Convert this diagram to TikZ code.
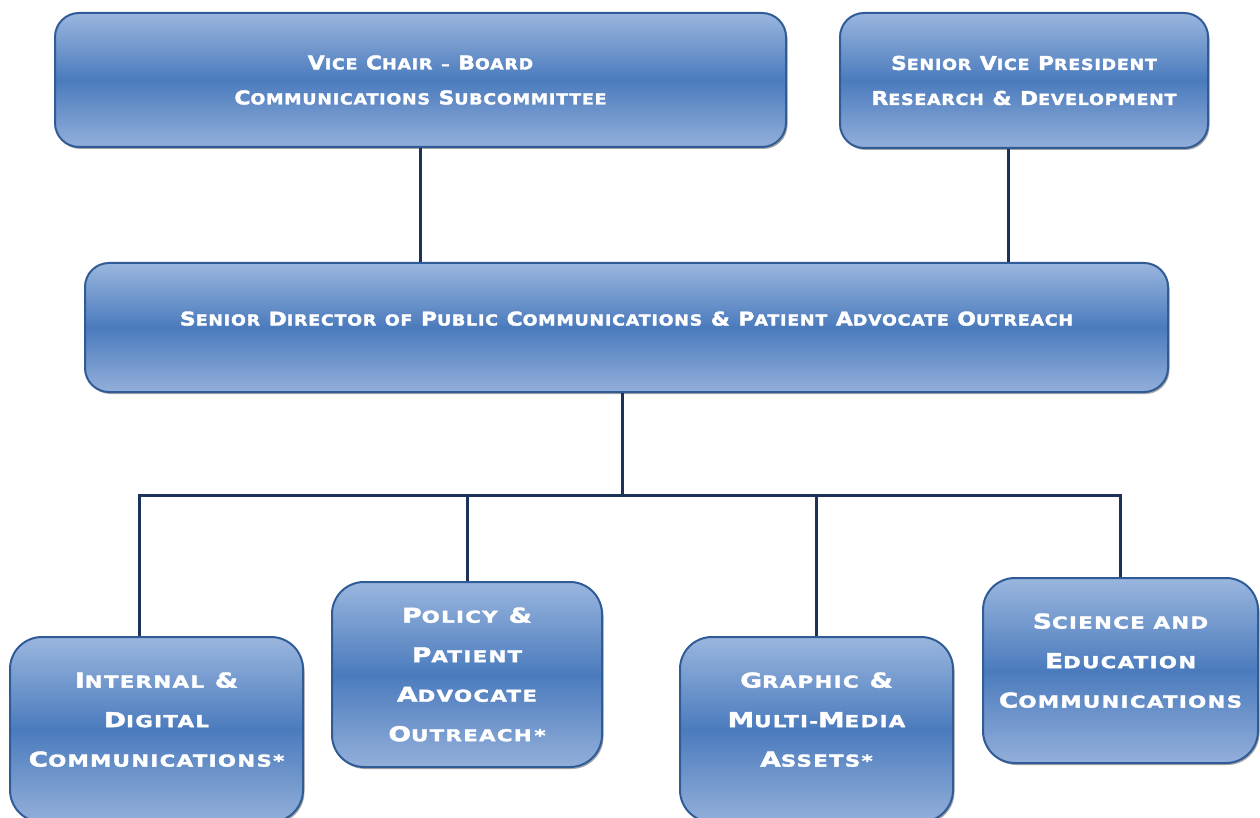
\documentclass[tikz,border=0pt]{standalone}
\usepackage{fontspec}
\usetikzlibrary{calc, shadows}
\newfontfamily\headfont[FakeStretch=1.15, LetterSpace=5, FakeBold=2]{DejaVu Sans Bold}
\newfontfamily\unitfont[FakeStretch=1.3, LetterSpace=8, FakeBold=2]{DejaVu Sans Bold}
\definecolor{boxtop}{HTML}{9AB6DE}
\definecolor{boxmid}{HTML}{4B7BBD}
\definecolor{boxbot}{HTML}{93AFDA}
\definecolor{boxline}{HTML}{2F5C96}
\definecolor{linkline}{HTML}{1C3357}
\newcommand{\smsize}{}
\newcommand{\sw}[2]{#1{\smsize #2}}
\tikzset{
  every picture/.style={x=1pt, y=-1pt},
  orgbox/.style={draw=boxline, line width=2pt, top color=boxtop, bottom color=boxbot, middle color=boxmid,
    rounded corners=#1, align=center, text=white, inner sep=0pt,
    drop shadow={shadow xshift=1.5pt, shadow yshift=-2pt, opacity=.35, fill=black}},
  orgbox/.default=24pt,
  headtext/.style={font={\headfont\fontsize{19}{35}\selectfont\renewcommand\smsize{\fontsize{15.2}{35}\selectfont}}},
  unittext/.style={font={\unitfont\fontsize{20.5}{39.5}\selectfont\renewcommand\smsize{\fontsize{16.4}{39.5}\selectfont}}},
  link/.style={draw=linkline, line width=3pt},
}

\begin{document}
\begin{tikzpicture}
  \useasboundingbox (0,0) rectangle (1260,818);
  % top row
  \node[orgbox, headtext, minimum width=731pt, minimum height=134pt] (vc) at (420.5,80)
    {\sw{V}{ICE} \sw{C}{HAIR} {\smsize –} \sw{B}{OARD}\\ \sw{C}{OMMUNICATIONS} \sw{S}{UBCOMMITTEE}};
  \node[orgbox, headtext, minimum width=368pt, minimum height=135pt] (svp) at (1024,80.5)
    {\sw{S}{ENIOR} \sw{V}{ICE} \sw{P}{RESIDENT}\\ \sw{R}{ESEARCH} \& \sw{D}{EVELOPMENT}};
  % senior director
  \node[orgbox, headtext, minimum width=1083pt, minimum height=129pt, text depth=18pt] (sd) at (626.5,327.5)
    {\sw{S}{ENIOR} \sw{D}{IRECTOR} {\smsize OF} \sw{P}{UBLIC} \sw{C}{OMMUNICATIONS} \& \sw{P}{ATIENT} \sw{A}{DVOCATE} \sw{O}{UTREACH}};
  % units
  \node[orgbox=32pt, unittext, minimum width=293pt, minimum height=185pt, text depth=20pt] (idc) at (156.5,729.5)
    {\sw{I}{NTERNAL} \&\\ \sw{D}{IGITAL}\\ \sw{C}{OMMUNICATIONS*}};
  \node[orgbox=32pt, unittext, minimum width=270pt, minimum height=185pt] (ppa) at (467,674.5)
    {\sw{P}{OLICY} \&\\ \sw{P}{ATIENT}\\ \sw{A}{DVOCATE}\\ \sw{O}{UTREACH\,*}};
  \node[orgbox=32pt, unittext, minimum width=273pt, minimum height=185pt, text depth=20pt] (gma) at (816.5,729.5)
    {\sw{G}{RAPHIC} \&\\ \sw{M}{ULTI-}\sw{M}{EDIA}\\ \sw{A}{SSETS*}};
  \node[orgbox=32pt, unittext, minimum width=275pt, minimum height=185pt, text depth=20pt] (sec) at (1120.5,670.5)
    {\sw{S}{CIENCE AND}\\ \sw{E}{DUCATION}\\ \sw{C}{OMMUNICATIONS}};
  % connectors
  \coordinate (bus) at (622,495);
  \draw[link] (vc.south) -- (vc.south |- sd.north);
  \draw[link] ([xshift=-16pt]svp.south) -- ([xshift=-16pt]svp.south |- sd.north);
  \draw[link] (sd.south -| bus) -- (bus);
  \draw[link] ([xshift=-17pt]idc.north) |- (bus -| sec.north) -- (sec.north);
  \draw[link] (ppa.north) -- (ppa.north |- bus);
  \draw[link] (gma.north) -- (gma.north |- bus);
\end{tikzpicture}
\end{document}
